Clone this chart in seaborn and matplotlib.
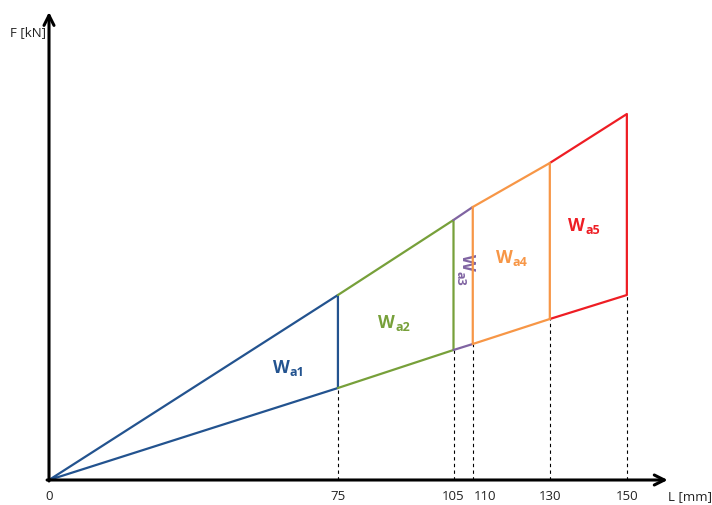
import matplotlib
matplotlib.use("Agg")
import matplotlib.pyplot as plt
import seaborn as sns
import pandas as pd

# ---- data ----
L_points = [0, 75, 105, 110, 130, 150]          # mm
F_upper = [0, 185, 260, 273, 317, 366]          # arbitrary F units (upper line)
F_lower = [0, 92, 130, 136, 161, 185]           # arbitrary F units (lower line)
tick_labels = ["0", "75", "105", "110", "130", "150"]
region_names = ["a1", "a2", "a3", "a4", "a5"]
region_colors = ["#23538F", "#77A03A", "#8064A2", "#F79646", "#EE1D24"]

sns.set_theme(style="white")
plt.rcParams['font.family'] = ['Open Sans', 'DejaVu Sans']

fig = plt.figure(figsize=(7.12, 5.05), dpi=100)
ax = fig.add_axes([0, 0, 1, 1])
ax.set_xlim(-12.72, 172.1)
ax.set_ylim(-25, 480)
ax.axis('off')

lw = 1.6

def draw(xs, ys, color, z=3):
    df = pd.DataFrame({"L": xs, "F": ys})
    sns.lineplot(data=df, x="L", y="F", color=color, sort=False,
                 estimator=None, lw=lw, ax=ax, zorder=z)

# dashed guides
for i in range(1, len(L_points)):
    ax.plot([L_points[i], L_points[i]], [0, F_lower[i]], color='black',
            lw=0.8, ls=(0, (3, 3)), zorder=1)

# region 1 (blue)
draw([L_points[0], L_points[1], L_points[1], L_points[0]],
     [F_lower[0], F_lower[1], F_upper[1], F_upper[0]], region_colors[0])
# region 2 (green)
draw([L_points[1], L_points[2], L_points[2], L_points[1]],
     [F_lower[1], F_lower[2], F_upper[2], F_upper[1]], region_colors[1])
# region 3 (purple) - top and bottom
draw([L_points[2], L_points[3]], [F_lower[2], F_lower[3]], region_colors[2])
draw([L_points[2], L_points[3]], [F_upper[2], F_upper[3]], region_colors[2])
# region 4 (orange) closed
draw([L_points[3], L_points[3], L_points[4], L_points[4], L_points[3]],
     [F_upper[3], F_lower[3], F_lower[4], F_upper[4], F_upper[3]], region_colors[3], z=4)
# region 5 (red)
draw([L_points[4], L_points[5], L_points[5], L_points[4]],
     [F_lower[4], F_lower[5], F_upper[5], F_upper[4]], region_colors[4], z=3)

# axes with arrows
ax.annotate('', xy=(160.6, 0), xytext=(-0.5, 0),
            arrowprops=dict(arrowstyle='->', lw=2.2, color='black', mutation_scale=18,
                            shrinkA=0, shrinkB=0), zorder=5)
ax.annotate('', xy=(0, 468), xytext=(0, -1),
            arrowprops=dict(arrowstyle='->', lw=2.2, color='black', mutation_scale=18,
                            shrinkA=0, shrinkB=0), zorder=5)

# tick labels
label_x = [0, 75, 105, 113.2, 130, 150]
for x, t in zip(label_x, tick_labels):
    ax.text(x, -17, t, ha='center', va='center', fontsize=9.5, color='#222222')
ax.text(166.4, -17, "L [mm]", ha='center', va='center', fontsize=9.5, color='#222222')
ax.text(-0.8, 447, "F [kN]", ha='right', va='center', fontsize=9.5, color='#222222')

# region labels: big bold W with bold subscript
label_pos = [(60.2, 112, 0), (87.5, 157, 0), (108.5, 218, 270), (118.1, 222, 0), (136.8, 254, 0)]
for (x, y, rot), name, c in zip(label_pos, region_names, region_colors):
    ax.text(x, y, "W", ha='center', va='center', fontsize=12.5, fontweight='bold',
            color=c, rotation=rot)
    if rot == 0:
        ax.annotate(name, xy=(x, y), xytext=(6.5, -3.5), textcoords='offset points',
                    ha='left', va='center', fontsize=9, fontweight='bold', color=c)
    else:
        ax.annotate(name, xy=(x, y), xytext=(-5, -6.5), textcoords='offset points',
                    ha='center', va='top', fontsize=9, fontweight='bold', color=c,
                    rotation=rot)

fig.savefig("out.png", dpi=100)
